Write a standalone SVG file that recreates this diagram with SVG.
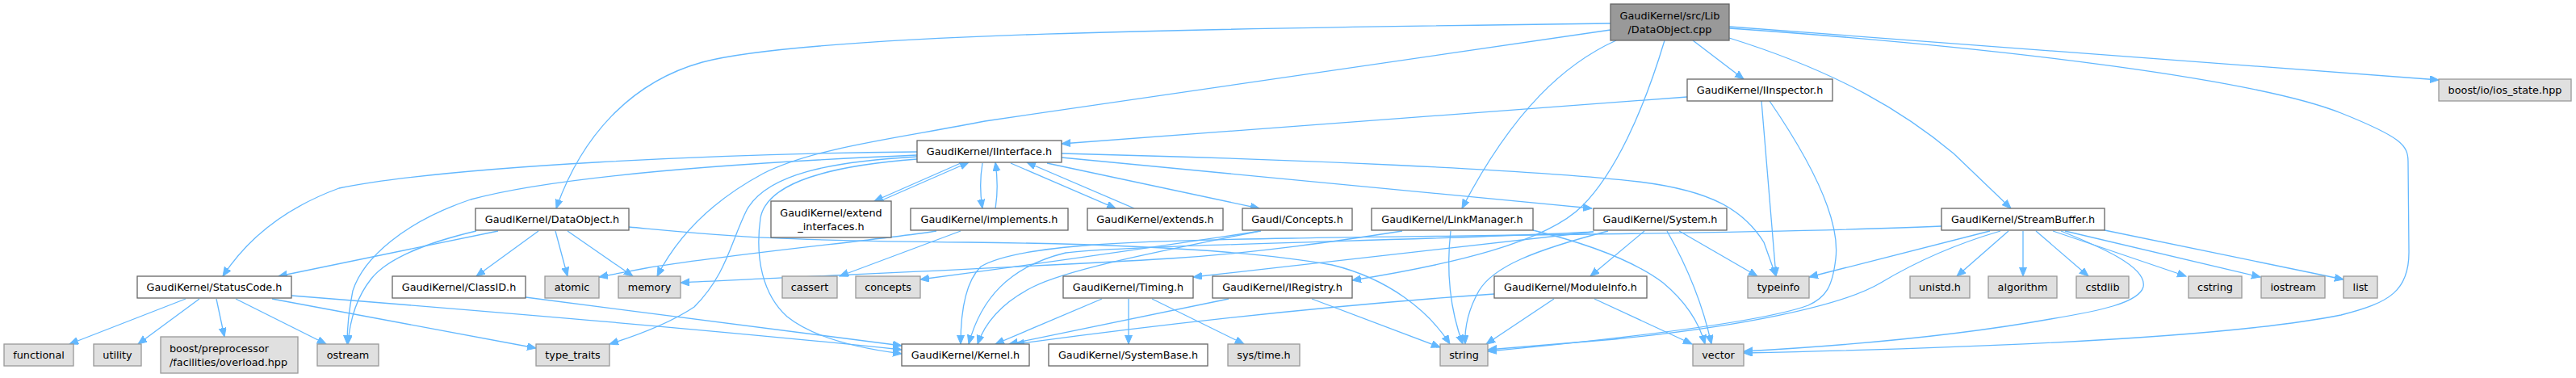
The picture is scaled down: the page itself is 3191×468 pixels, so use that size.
<svg xmlns="http://www.w3.org/2000/svg" width="3191" height="468" viewBox="0 0 3191 468">
<style>
text{font-family:"DejaVu Sans","Liberation Sans",sans-serif;font-size:12.8px;fill:#000;text-anchor:middle}
.n rect{fill:#fff;stroke:#666;stroke-width:1.3}
.g rect{fill:#e0e0e0;stroke:#999;stroke-width:1.3}
.m rect{fill:#999;stroke:#666;stroke-width:1.3}
#edges path{fill:none;stroke:#63b8ff;stroke-width:1.3;marker-end:url(#a)}
</style>
<defs>
<marker id="a" markerWidth="12" markerHeight="10" refX="11" refY="4.5" orient="auto" markerUnits="userSpaceOnUse"><path d="M0,0 L11,4.5 L0,9 z" fill="#63b8ff" stroke="#63b8ff" stroke-width="1"/></marker>
</defs>
<rect width="3191" height="468" fill="#fff"/>
<g id="edges">
<path d="M1995,29 C1500,35 1000,42 870,77 C780,102 720,170 689,258"/>
<path d="M1995,37 L1220,150 C1120,170 1010,182 945,215 C880,250 838,295 814,342"/>
<path d="M2097,50 L2160,98"/>
<path d="M2002,50 C1940,78 1875,135 1811,258"/>
<path d="M2062,50 C2035,140 2000,215 1960,255 C1915,300 1800,327 1675,347"/>
<path d="M2142,47 C2280,90 2360,140 2420,190 L2491,258"/>
<path d="M2142,35 C2500,60 2800,100 2900,140 C2975,170 2983,180 2983,200 L2984,310 C2985,360 2960,375 2900,390 C2750,420 2400,432 2160,437"/>
<path d="M2142,33 L3021,99"/>
<path d="M2090,120 L1315,178"/>
<path d="M2182,125 L2200,342"/>
<path d="M2192,125 C2240,195 2280,270 2274,320 C2270,355 2262,368 2240,378 C2180,400 2000,420 1843,435"/>
<path d="M1136,188 C900,190 560,205 420,233 C360,255 310,290 276,342"/>
<path d="M1136,192 C950,200 700,215 583,247 C500,275 450,320 437,360 C432,385 430,405 430,426"/>
<path d="M1136,194 C1030,200 950,215 925,260 C905,300 900,340 860,380 C830,400 790,415 755,426"/>
<path d="M1136,197 C1030,205 950,225 942,270 C935,320 945,365 975,392 C1010,420 1070,432 1117,438"/>
<path d="M1190,202 L1083,249"/>
<path d="M1217,202 C1214,220 1214,240 1217,258"/>
<path d="M1252,202 L1382,258"/>
<path d="M1297,202 L1560,258"/>
<path d="M1315,195 L1972,258"/>
<path d="M1315,190 C1600,197 1900,210 2030,225 C2120,236 2160,260 2185,300 L2200,342"/>
<path d="M1090,249 L1200,201"/>
<path d="M1233,258 C1236,240 1236,222 1233,201"/>
<path d="M1405,258 L1272,201"/>
<path d="M1160,286 C1100,296 900,315 800,332 L742,343"/>
<path d="M1190,286 L1040,342"/>
<path d="M617,286 L345,342"/>
<path d="M590,286 C530,300 480,320 460,345 C440,370 433,400 431,426"/>
<path d="M667,286 L590,342"/>
<path d="M688,286 L703,342"/>
<path d="M703,286 L784,342"/>
<path d="M779,281 C900,292 950,298 1200,300 C1400,302 1550,310 1650,328 C1720,345 1770,385 1796,426"/>
<path d="M651,368 L1117,428"/>
<path d="M361,366 C600,385 900,410 1117,433"/>
<path d="M337,370 L664,431"/>
<path d="M292,370 L404,426"/>
<path d="M268,370 L278,417"/>
<path d="M247,370 L171,426"/>
<path d="M230,370 L86,426"/>
<path d="M1562,286 C1450,303 1300,325 1140,346"/>
<path d="M1560,286 C1470,305 1330,330 1280,355 C1240,375 1220,400 1211,426"/>
<path d="M1737,286 C1660,298 1560,313 1450,320 C1250,332 1000,342 843,350"/>
<path d="M1797,286 C1792,330 1795,380 1812,426"/>
<path d="M1899,285 C1960,300 2020,320 2060,350 C2090,375 2105,400 2112,426"/>
<path d="M1974,287 C1800,297 1400,303 1320,313 C1250,330 1215,370 1200,426"/>
<path d="M1974,287 L1478,343"/>
<path d="M2037,286 L1970,342"/>
<path d="M1992,286 C1900,310 1850,330 1832,360 C1818,385 1814,405 1815,426"/>
<path d="M2080,286 L2177,342"/>
<path d="M2065,286 C2090,330 2110,380 2120,426"/>
<path d="M1851,364 C1650,378 1450,400 1258,426"/>
<path d="M1925,370 L1841,426"/>
<path d="M1975,370 L2096,426"/>
<path d="M1365,370 L1233,426"/>
<path d="M1398,370 L1398,426"/>
<path d="M1427,370 L1541,426"/>
<path d="M1522,370 L1250,426"/>
<path d="M1625,370 L1784,430"/>
<path d="M2465,286 L2241,343"/>
<path d="M2478,286 C2430,300 2380,320 2330,350 C2280,380 2150,405 2000,420 L1843,433"/>
<path d="M2488,286 L2424,342"/>
<path d="M2506,286 L2506,342"/>
<path d="M2522,286 L2587,342"/>
<path d="M2543,286 L2708,342"/>
<path d="M2558,286 L2800,343"/>
<path d="M2607,285 L2903,346"/>
<path d="M2553,286 C2600,305 2660,330 2655,355 C2650,375 2600,385 2540,395 C2400,420 2250,430 2160,435"/>
<path d="M2405,280 C2200,290 1700,292 1600,295 C1400,298 1260,303 1215,330 C1195,350 1190,390 1190,426"/>
</g>
<g id="node_cpp" class="m"><rect x="1995" y="5" width="147" height="45"/><text x="2068.5" y="23.5">GaudiKernel/src/Lib</text><text x="2068.5" y="40.5">/DataObject.cpp</text></g>
<g id="node_iinspector" class="n"><rect x="2090" y="98" width="180" height="27"/><text x="2180" y="116">GaudiKernel/IInspector.h</text></g>
<g id="node_iosstate" class="g"><rect x="3021" y="98" width="164" height="27"/><text x="3103" y="116">boost/io/ios_state.hpp</text></g>
<g id="node_iinterface" class="n"><rect x="1136" y="174" width="179" height="27"/><text x="1225.5" y="192">GaudiKernel/IInterface.h</text></g>
<g id="node_dataobject_h" class="n"><rect x="589" y="258" width="190" height="27"/><text x="684" y="276">GaudiKernel/DataObject.h</text></g>
<g id="node_extend_interfaces" class="n"><rect x="955" y="249" width="149" height="45"/><text x="1029.5" y="267.5">GaudiKernel/extend</text><text x="1029.5" y="284.5">_interfaces.h</text></g>
<g id="node_implements" class="n"><rect x="1128" y="258" width="195" height="27"/><text x="1225.5" y="276">GaudiKernel/implements.h</text></g>
<g id="node_extends" class="n"><rect x="1347" y="258" width="168" height="27"/><text x="1431" y="276">GaudiKernel/extends.h</text></g>
<g id="node_gconcepts" class="n"><rect x="1539" y="258" width="136" height="27"/><text x="1607" y="276">Gaudi/Concepts.h</text></g>
<g id="node_linkmanager" class="n"><rect x="1699" y="258" width="200" height="27"/><text x="1799" y="276">GaudiKernel/LinkManager.h</text></g>
<g id="node_system" class="n"><rect x="1974" y="258" width="165" height="27"/><text x="2056.5" y="276">GaudiKernel/System.h</text></g>
<g id="node_streambuffer" class="n"><rect x="2405" y="258" width="202" height="27"/><text x="2506" y="276">GaudiKernel/StreamBuffer.h</text></g>
<g id="node_statuscode" class="n"><rect x="170" y="342" width="191" height="27"/><text x="265.5" y="360">GaudiKernel/StatusCode.h</text></g>
<g id="node_classid" class="n"><rect x="486" y="342" width="165" height="27"/><text x="568.5" y="360">GaudiKernel/ClassID.h</text></g>
<g id="node_atomic" class="g"><rect x="675" y="342" width="67" height="27"/><text x="708.5" y="360">atomic</text></g>
<g id="node_memory" class="g"><rect x="766" y="342" width="77" height="27"/><text x="804.5" y="360">memory</text></g>
<g id="node_cassert" class="g"><rect x="969" y="342" width="68" height="27"/><text x="1003" y="360">cassert</text></g>
<g id="node_concepts" class="g"><rect x="1060" y="342" width="80" height="27"/><text x="1100" y="360">concepts</text></g>
<g id="node_timing" class="n"><rect x="1317" y="342" width="161" height="27"/><text x="1397.5" y="360">GaudiKernel/Timing.h</text></g>
<g id="node_iregistry" class="n"><rect x="1502" y="342" width="173" height="27"/><text x="1588.5" y="360">GaudiKernel/IRegistry.h</text></g>
<g id="node_moduleinfo" class="n"><rect x="1851" y="342" width="189" height="27"/><text x="1945.5" y="360">GaudiKernel/ModuleInfo.h</text></g>
<g id="node_typeinfo" class="g"><rect x="2165" y="342" width="76" height="27"/><text x="2203" y="360">typeinfo</text></g>
<g id="node_unistd" class="g"><rect x="2366" y="342" width="74" height="27"/><text x="2403" y="360">unistd.h</text></g>
<g id="node_algorithm" class="g"><rect x="2463" y="342" width="85" height="27"/><text x="2505.5" y="360">algorithm</text></g>
<g id="node_cstdlib" class="g"><rect x="2572" y="342" width="65" height="27"/><text x="2604.5" y="360">cstdlib</text></g>
<g id="node_cstring" class="g"><rect x="2711" y="342" width="66" height="27"/><text x="2744" y="360">cstring</text></g>
<g id="node_iostream" class="g"><rect x="2801" y="342" width="79" height="27"/><text x="2840.5" y="360">iostream</text></g>
<g id="node_list" class="g"><rect x="2903" y="342" width="42" height="27"/><text x="2924" y="360">list</text></g>
<g id="node_functional" class="g"><rect x="5" y="426" width="86" height="27"/><text x="48" y="444">functional</text></g>
<g id="node_utility" class="g"><rect x="116" y="426" width="59" height="27"/><text x="145.5" y="444">utility</text></g>
<g id="node_overload" class="g"><rect x="199" y="417" width="170" height="45"/><text x="210" y="435.5" style="text-anchor:start">boost/preprocessor</text><text x="210" y="452.5" style="text-anchor:start">/facilities/overload.hpp</text></g>
<g id="node_ostream" class="g"><rect x="393" y="426" width="76" height="27"/><text x="431" y="444">ostream</text></g>
<g id="node_type_traits" class="g"><rect x="664" y="426" width="91" height="27"/><text x="709.5" y="444">type_traits</text></g>
<g id="node_kernel" class="n"><rect x="1117" y="426" width="158" height="27"/><text x="1196" y="444">GaudiKernel/Kernel.h</text></g>
<g id="node_systembase" class="n"><rect x="1299" y="426" width="197" height="27"/><text x="1397.5" y="444">GaudiKernel/SystemBase.h</text></g>
<g id="node_systime" class="g"><rect x="1521" y="426" width="89" height="27"/><text x="1565.5" y="444">sys/time.h</text></g>
<g id="node_string" class="g"><rect x="1784" y="426" width="59" height="27"/><text x="1813.5" y="444">string</text></g>
<g id="node_vector" class="g"><rect x="2097" y="426" width="63" height="27"/><text x="2128.5" y="444">vector</text></g>
</svg>
